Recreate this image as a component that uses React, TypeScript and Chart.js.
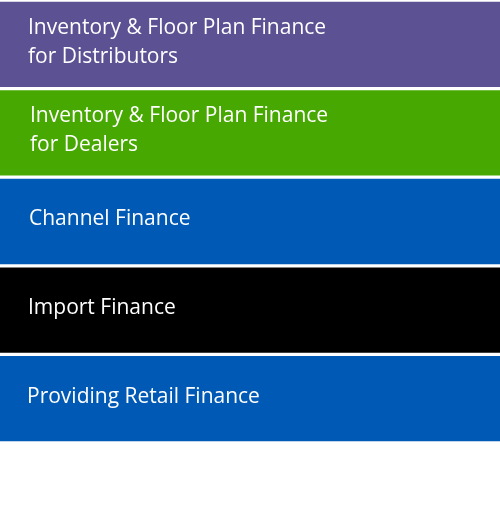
import { useEffect, useRef } from "react"
import { Chart, registerables } from "chart.js"

Chart.register(...registerables)

const categories = [
  ["Inventory & Floor Plan Finance", "for Distributors"],
  ["Inventory & Floor Plan Finance", "for Dealers"],
  ["Channel Finance"],
  ["Import Finance"],
  ["Providing Retail Finance"],
]
const values = [1, 1, 1, 1, 1]
const colors = ["#5b5193", "#46a800", "#0059b5", "#000000", "#0059b5"]
const textX = [28, 30, 29, 28, 27]

const labelPlugin = {
  id: "bandLabels",
  afterDatasetsDraw(chart: Chart) {
    const ctx = chart.ctx
    const meta = chart.getDatasetMeta(0)
    ctx.save()
    ctx.fillStyle = "#ffffff"
    ctx.font = "21px 'Open Sans', sans-serif"
    ctx.textBaseline = "middle"
    meta.data.forEach((bar: any, i: number) => {
      const lines = categories[i]
      const lh = 29
      const start = bar.y - ((lines.length - 1) * lh) / 2 - 2
      lines.forEach((line, j) => ctx.fillText(line, textX[i], start + j * lh))
    })
    ctx.restore()
  },
}

export default function App() {
  const chartRef = useRef<HTMLCanvasElement>(null)

  useEffect(() => {
    if (!chartRef.current) return
    const chart = new Chart(chartRef.current, {
      type: "bar",
      data: {
        labels: categories.map((c) => c.join(" ")),
        datasets: [
          {
            data: values,
            backgroundColor: colors,
            barPercentage: 0.963,
            categoryPercentage: 1,
            borderWidth: 0,
          },
        ],
      },
      options: {
        indexAxis: "y",
        animation: false,
        responsive: false,
        layout: { padding: { left: 0, right: 0, top: -2, bottom: 89 } },
        scales: {
          x: { display: false, min: 0, max: 1 },
          y: { display: false },
        },
        plugins: { legend: { display: false }, tooltip: { enabled: false } },
      },
      plugins: [labelPlugin],
    })
    return () => chart.destroy()
  }, [])

  return (
    <div style={{ position: "absolute", left: 0, top: 0, width: 500, height: 532, background: "#fff" }}>
      <canvas ref={chartRef} width={500} height={532}></canvas>
    </div>
  )
}
